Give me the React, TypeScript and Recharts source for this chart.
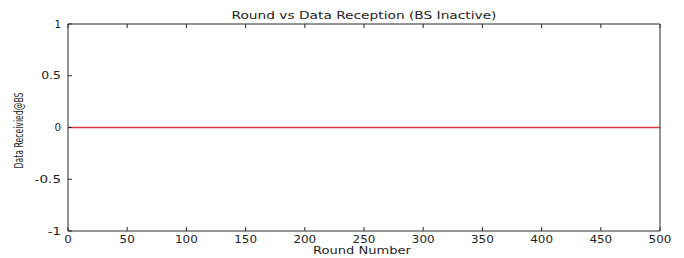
import React from "react";
import { LineChart, Line, XAxis, YAxis, Label } from "recharts";

const rounds = [0, 500];
const dataReceived = [0, 0];
const xTicks = [0, 50, 100, 150, 200, 250, 300, 350, 400, 450, 500];
const yTicks = [-1, -0.5, 0, 0.5, 1];
const title = "Round vs Data Reception (BS Inactive)";
const xLabel = "Round Number";
const yLabel = "Data Receivied@BS";

const data = rounds.map((r, i) => ({ round: r, received: dataReceived[i] }));

const AXIS = "#2a2a2a";
const TEXT = "#1e1e1e";
const FONT = "DejaVu Sans, Arial, sans-serif";
const LINE = "#d43a3a";
const TL = 4;

const BottomTick = (p: any) => {
  const { x, y, payload } = p;
  const s = String(payload.value);
  return (
    <g>
      <line x1={x} x2={x} y1={y} y2={y - TL} stroke={AXIS} />
      <text x={x} y={y + 8} textAnchor="middle" dominantBaseline="central" fontSize={10} fontFamily={FONT} fill={TEXT} textLength={s.length * 7.6} lengthAdjust="spacingAndGlyphs">{s}</text>
    </g>
  );
};

const TopTick = (p: any) => {
  const { x, y } = p;
  return <line x1={x} x2={x} y1={y} y2={y + TL} stroke={AXIS} />;
};

const LeftTick = (p: any) => {
  const { x, y, payload } = p;
  const s = String(payload.value);
  return (
    <g>
      <line x1={x} x2={x + TL} y1={y} y2={y} stroke={AXIS} />
      <text x={x - 7} y={y} textAnchor="end" dominantBaseline="central" fontSize={10} fontFamily={FONT} fill={TEXT} textLength={s.length * 6.6} lengthAdjust="spacingAndGlyphs">{s}</text>
    </g>
  );
};

const RightTick = (p: any) => {
  const { x, y } = p;
  return <line x1={x} x2={x - TL} y1={y} y2={y} stroke={AXIS} />;
};

export default function App() {
  return (
    <div style={{ position: "absolute", left: 0, top: 0, background: "#fff" }}>
      <LineChart width={684} height={258} data={data} margin={{ top: 0, right: 0, bottom: 0, left: 0 }}>
        <XAxis
          xAxisId="bottom"
          dataKey="round"
          type="number"
          domain={[0, 500]}
          ticks={xTicks}
          interval={0}
          orientation="bottom"
          height={27}
          tickSize={0}
          tickMargin={0}
          tickLine={false}
          axisLine={{ stroke: AXIS }}
          tick={BottomTick}
        >
          <Label
            content={(lp: any) => {
              const vb = lp.viewBox;
              return (
                <text x={vb.x + vb.width / 2 - 2} y={vb.y + 19} textAnchor="middle" dominantBaseline="central" fontSize={11} fontFamily={FONT} fill={TEXT} textLength={98} lengthAdjust="spacingAndGlyphs">{xLabel}</text>
              );
            }}
          />
        </XAxis>
        <XAxis
          xAxisId="top"
          dataKey="round"
          type="number"
          domain={[0, 500]}
          ticks={xTicks}
          interval={0}
          orientation="top"
          height={24}
          tickSize={0}
          tickMargin={0}
          tickLine={false}
          axisLine={{ stroke: AXIS }}
          tick={TopTick}
        >
          <Label
            content={(lp: any) => {
              const vb = lp.viewBox;
              return (
                <text x={vb.x + vb.width / 2} y={vb.y + 15} textAnchor="middle" dominantBaseline="central" fontSize={10.5} fontFamily={FONT} fill={TEXT} textLength={265} lengthAdjust="spacingAndGlyphs">{title}</text>
              );
            }}
          />
        </XAxis>
        <YAxis
          yAxisId="left"
          type="number"
          domain={[-1, 1]}
          ticks={yTicks}
          interval={0}
          orientation="left"
          width={68}
          tickSize={0}
          tickMargin={0}
          tickLine={false}
          axisLine={{ stroke: AXIS }}
          tick={LeftTick}
        >
          <Label
            content={(lp: any) => {
              const vb = lp.viewBox;
              const cx = 18;
              const cy = vb.y + vb.height / 2 + 3;
              return (
                <text x={cx} y={cy} transform={`rotate(-90 ${cx} ${cy})`} textAnchor="middle" dominantBaseline="central" fontSize={13} fontFamily={FONT} fill={TEXT} textLength={76} lengthAdjust="spacingAndGlyphs">{yLabel}</text>
              );
            }}
          />
        </YAxis>
        <YAxis
          yAxisId="right"
          type="number"
          domain={[-1, 1]}
          ticks={yTicks}
          interval={0}
          orientation="right"
          width={24}
          tickSize={0}
          tickMargin={0}
          tickLine={false}
          axisLine={{ stroke: AXIS }}
          tick={RightTick}
        />
        <Line
          xAxisId="bottom"
          yAxisId="left"
          type="linear"
          dataKey="received"
          stroke={LINE}
          strokeWidth={1.5}
          dot={false}
          activeDot={false}
          isAnimationActive={false}
        />
      </LineChart>
    </div>
  );
}
